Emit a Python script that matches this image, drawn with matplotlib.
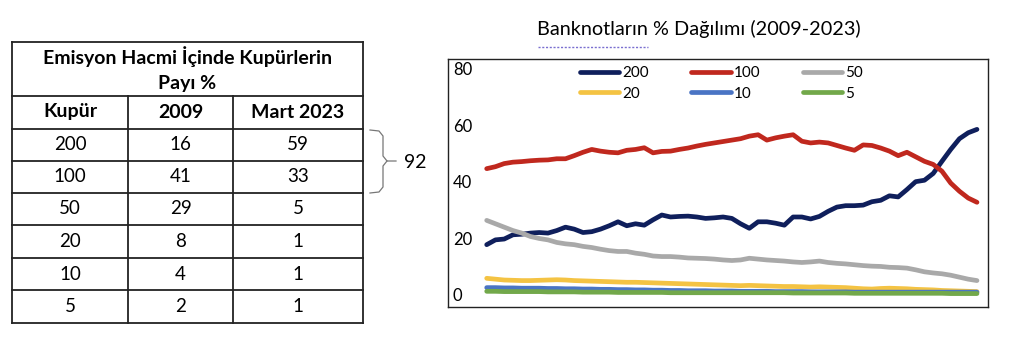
import matplotlib
matplotlib.use('Agg')
import matplotlib.pyplot as plt

plt.rcParams['font.family'] = ['Lato', 'DejaVu Sans']

# Tablo verileri
table_title = ['Emisyon Hacmi İçinde Kupürlerin', 'Payı %']
table_cols = ['Kupür', '2009', 'Mart 2023']
kupur = [200, 100, 50, 20, 10, 5]
pay_2009 = [16, 41, 29, 8, 4, 2]
pay_2023 = [59, 33, 5, 1, 1, 1]

# Grafik verileri: çeyreklik, 2009Q1 - 2023Q1
seri_200 = [17.8, 19.5, 19.8, 21.3, 21.5, 21.9, 22.1, 21.9, 22.8, 24.0,
            23.3, 22.1, 22.4, 23.3, 24.5, 25.9, 24.5, 25.2, 24.7, 26.6,
            28.3, 27.6, 27.8, 27.9, 27.6, 27.1, 27.3, 27.6, 27.1, 25.2,
            23.6, 25.9, 25.9, 25.4, 24.7, 27.6, 27.6, 26.9, 27.8, 29.6,
            31.1, 31.6, 31.6, 31.8, 33.0, 33.5, 35.1, 34.7, 37.3, 40.1,
            40.6, 43.0, 47.3, 51.5, 55.3, 57.4, 58.6]
seri_100 = [44.7, 45.4, 46.5, 47.0, 47.2, 47.5, 47.7, 47.8, 48.2, 48.2,
            49.3, 50.5, 51.5, 50.9, 50.5, 50.3, 51.2, 51.5, 52.1, 50.3,
            50.8, 50.9, 51.5, 52.0, 52.7, 53.3, 53.8, 54.3, 54.8, 55.3,
            56.2, 56.7, 54.8, 55.6, 56.2, 56.7, 54.4, 53.8, 54.1, 53.8,
            52.9, 52.0, 51.2, 53.1, 52.9, 52.0, 50.9, 49.3, 50.5, 48.9,
            47.3, 46.2, 43.8, 39.6, 36.7, 34.3, 32.8]
seri_50 = [26.4, 25.2, 24.0, 22.8, 21.9, 20.7, 20.0, 19.5, 18.6, 18.1,
           17.8, 17.2, 16.8, 16.2, 15.7, 15.4, 15.4, 14.8, 14.4, 13.8,
           13.6, 13.6, 13.4, 13.1, 13.0, 12.9, 12.7, 12.4, 12.2, 12.4,
           13.0, 12.7, 12.4, 12.2, 12.0, 11.7, 11.5, 11.7, 12.0, 11.5,
           11.2, 11.0, 10.7, 10.4, 10.2, 10.1, 9.8, 9.7, 9.5, 8.9,
           8.2, 7.8, 7.5, 7.0, 6.3, 5.6, 5.1]
seri_20 = [5.9, 5.6, 5.3, 5.2, 5.1, 5.1, 5.2, 5.3, 5.4, 5.3,
           5.1, 5.0, 4.9, 4.8, 4.7, 4.6, 4.5, 4.5, 4.4, 4.3,
           4.2, 4.1, 4.0, 3.9, 3.8, 3.7, 3.6, 3.5, 3.4, 3.3,
           3.4, 3.3, 3.2, 3.1, 3.0, 3.0, 2.9, 2.8, 2.9, 2.8,
           2.7, 2.6, 2.4, 2.2, 2.1, 2.3, 2.4, 2.3, 2.2, 2.0,
           1.9, 1.8, 1.6, 1.5, 1.4, 1.3, 1.2]
seri_10 = [2.6, 2.6, 2.5, 2.5, 2.4, 2.4, 2.4, 2.3, 2.3, 2.2,
           2.2, 2.1, 2.1, 2.0, 2.0, 1.9, 1.9, 1.8, 1.8, 1.7,
           1.7, 1.6, 1.6, 1.5, 1.5, 1.5, 1.4, 1.4, 1.4, 1.3,
           1.3, 1.3, 1.3, 1.2, 1.2, 1.2, 1.2, 1.1, 1.1, 1.1,
           1.1, 1.1, 1.0, 1.0, 1.0, 1.0, 1.0, 1.0, 1.0, 1.0,
           1.0, 1.0, 1.0, 1.0, 1.0, 1.0, 1.0]
seri_5 = [1.3, 1.3, 1.2, 1.2, 1.2, 1.2, 1.2, 1.1, 1.1, 1.1,
          1.1, 1.0, 1.0, 1.0, 1.0, 0.9, 0.9, 0.9, 0.9, 0.9,
          0.9, 0.8, 0.8, 0.8, 0.8, 0.8, 0.8, 0.8, 0.8, 0.8,
          0.8, 0.8, 0.8, 0.8, 0.8, 0.7, 0.7, 0.7, 0.7, 0.7,
          0.7, 0.7, 0.6, 0.6, 0.6, 0.6, 0.6, 0.6, 0.6, 0.6,
          0.6, 0.6, 0.6, 0.5, 0.5, 0.5, 0.5]

seri_adlari = ['200', '100', '50', '20', '10', '5']
seriler = [seri_200, seri_100, seri_50, seri_20, seri_10, seri_5]
renkler = ['#0f1f5c', '#c0281e', '#a9a9a9', '#f4c343', '#4a74c4', '#72a84a']

fig = plt.figure(figsize=(10.24, 3.42), dpi=100)

# Piksel koordinatlı yardımcı eksen (tablo, başlık, parantez)
ov = fig.add_axes([0, 0, 1, 1])
ov.set_xlim(0, 1024)
ov.set_ylim(342, 0)
ov.axis('off')

# Tablo çizgileri
x_kenar = [12, 128, 233, 363]
y_kenar = [42, 96, 129, 161, 193, 225, 258, 290, 323]
lc = '#222222'
ov.plot([x_kenar[0], x_kenar[-1]], [y_kenar[0], y_kenar[0]], color=lc, lw=1.3)
for y in y_kenar[1:]:
    ov.plot([x_kenar[0], x_kenar[-1]], [y, y], color=lc, lw=1.3)
ov.plot([x_kenar[0], x_kenar[0]], [y_kenar[0], y_kenar[-1]], color=lc, lw=1.3)
ov.plot([x_kenar[-1], x_kenar[-1]], [y_kenar[0], y_kenar[-1]], color=lc, lw=1.3)
for x in x_kenar[1:-1]:
    ov.plot([x, x], [y_kenar[1], y_kenar[-1]], color=lc, lw=1.3)

x_orta = (x_kenar[0] + x_kenar[-1]) / 2
ov.text(x_orta, 57, table_title[0], ha='center', va='center', fontsize=14, fontweight='bold')
ov.text(x_orta, 83, table_title[1], ha='center', va='center', fontsize=14, fontweight='bold')
x_merkez = [(x_kenar[i] + x_kenar[i + 1]) / 2 for i in range(3)]
for xc, col in zip(x_merkez, table_cols):
    ov.text(xc, 112, col, ha='center', va='center', fontsize=14, fontweight='bold')
for i, satir in enumerate(zip(kupur, pay_2009, pay_2023)):
    yc = (y_kenar[i + 2] + y_kenar[i + 3]) / 2
    for xc, v in zip(x_merkez, satir):
        ov.text(xc, yc, str(v), ha='center', va='center', fontsize=13.5)

# 200 + 100 toplamı için parantez
ov.plot([370, 379, 383, 383, 387, 396], [130, 131, 136, 156, 161, 161], color='#777777', lw=0.9)
ov.plot([370, 379, 383, 383, 387], [193, 192, 187, 166, 161], color='#777777', lw=0.9)
ov.text(415, 162, str(pay_2023[0] + pay_2023[1]), ha='center', va='center', fontsize=14)

# Grafik başlığı
ov.text(699, 29, 'Banknotların % Dağılımı (2009-2023)', ha='center', va='center', fontsize=14.3)
ov.plot([538, 648], [47, 47], color='#7a6fd0', lw=1.0, linestyle=(0, (1.5, 1.2)))

# Çizgi grafiği
ax = fig.add_axes([448 / 1024, 35 / 342, 540 / 1024, 248 / 342])
x = list(range(len(seri_200)))
cizgiler = []
for ad, s, c in zip(seri_adlari, seriler, renkler):
    ln, = ax.plot(x, s, color=c, lw=3.4, label=ad, solid_capstyle='round', solid_joinstyle='round')
    cizgiler.append(ln)

ax.set_xlim(-4.42, 57.26)
ax.set_ylim(-4.25, 83.5)
ax.set_xticks([])
ax.set_yticks([0, 20, 40, 60, 80])
ax.set_yticklabels(['0', '20', '40', '60', '80'])
ax.tick_params(axis='y', length=0, pad=-3.5, labelsize=12)
for lab in ax.get_yticklabels():
    lab.set_horizontalalignment('left')
for sp in ax.spines.values():
    sp.set_color('#222222')
    sp.set_linewidth(1.0)

# Lejant satır satır: 200 100 50 / 20 10 5
sira = [0, 3, 1, 4, 2, 5]
ax.legend([cizgiler[i] for i in sira], [seri_adlari[i] for i in sira],
          ncol=3, loc='upper left', bbox_to_anchor=(0.244, 0.97), frameon=False,
          fontsize=11, handlelength=2.6, handletextpad=0.2, columnspacing=2.75,
          labelspacing=0.4, borderpad=0, borderaxespad=0)

fig.savefig('out.png', dpi=100)
